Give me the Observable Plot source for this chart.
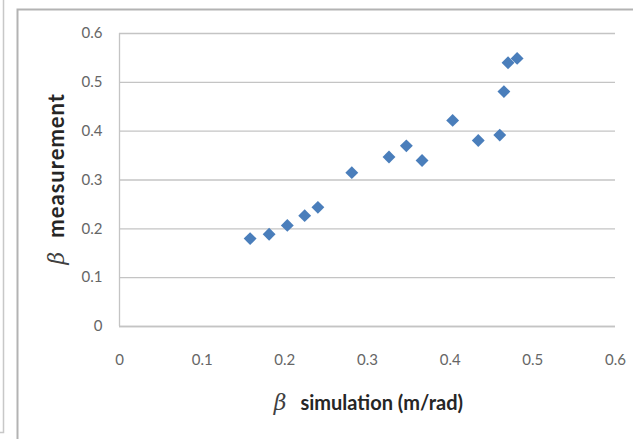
<!DOCTYPE html>
<html>
<head>
<meta charset="utf-8">
<script src="https://cdn.jsdelivr.net/npm/d3@7"></script>
<script src="https://cdn.jsdelivr.net/npm/@observablehq/plot@0.6"></script>
<style>
  html, body { margin: 0; padding: 0; background: #fff; }
  #chart { position: relative; width: 633px; height: 439px; }
</style>
</head>
<body>
<div id="chart"></div>
<script>
const betaSimulation = [0.158, 0.181, 0.203, 0.224, 0.240, 0.281, 0.326, 0.347, 0.366, 0.403, 0.434, 0.460, 0.465, 0.470, 0.481];
const betaMeasurement = [0.180, 0.189, 0.207, 0.227, 0.244, 0.315, 0.347, 0.370, 0.340, 0.422, 0.381, 0.392, 0.481, 0.540, 0.549];
const xTicks = [0, 0.1, 0.2, 0.3, 0.4, 0.5, 0.6];
const yTicks = [0, 0.1, 0.2, 0.3, 0.4, 0.5, 0.6];
const xTitle = "simulation (m/rad)";
const yTitle = "measurement";
const betaSymbol = "β";

const data = betaSimulation.map((x, i) => ({x, y: betaMeasurement[i]}));

const plot = Plot.plot({
  width: 633,
  height: 439,
  marginLeft: 119,
  marginRight: 18,
  marginTop: 33,
  marginBottom: 113,
  style: {fontFamily: "Lato, 'Open Sans', sans-serif", fontSize: "15px", color: "#666666", background: "#fff"},
  x: {domain: [0, 0.6], ticks: xTicks, tickFormat: d => String(d), label: null, tickSize: 0, tickPadding: 28},
  y: {domain: [0, 0.6], ticks: yTicks, tickFormat: d => String(d), label: null, tickSize: 0, tickPadding: 17},
  marks: [
    Plot.gridY(yTicks, {stroke: "#c4c4c4", strokeOpacity: 1, strokeWidth: 1.3}),
    Plot.ruleX([0], {stroke: "#c4c4c4", strokeWidth: 1.3}),
    Plot.ruleY([0], {stroke: "#c4c4c4", strokeWidth: 1.3}),
    Plot.dot(data, {x: "x", y: "y", symbol: "diamond2", r: 5.8, fill: "#4a7ebb", stroke: "none"})
  ]
});

document.getElementById("chart").appendChild(plot);

const svg = d3.select(plot);
// outer chart frame
const frame = svg.insert("g", ":first-child");
frame.append("path").attr("d", "M17.5,439 V9.5 H633").attr("fill", "none").attr("stroke", "#b3b3b3").attr("stroke-width", 2);
frame.append("path").attr("d", "M0,432.5 H3.5 V0").attr("fill", "none").attr("stroke", "#c8c8c8").attr("stroke-width", 1.5);

const titleFont = "Lato, 'Open Sans', sans-serif";
const betaFont = "'DejaVu Serif', 'Liberation Serif', serif";

// x title
const xt = svg.append("text").attr("x", 463).attr("y", 410).attr("text-anchor", "end")
  .attr("fill", "#262626").attr("font-family", titleFont).attr("font-weight", "bold").attr("font-size", 20);
xt.append("tspan").attr("font-family", betaFont).attr("font-style", "italic").attr("font-weight", "normal").attr("font-size", 22).attr("fill", "#404040").text(betaSymbol);
xt.append("tspan").attr("dx", 14).text(xTitle);

// y title
const yt = svg.append("text").attr("transform", "translate(64,93) rotate(-90)").attr("text-anchor", "end")
  .attr("fill", "#262626").attr("font-family", titleFont).attr("font-weight", "bold").attr("font-size", 22);
yt.append("tspan").attr("font-family", betaFont).attr("font-style", "italic").attr("font-weight", "normal").attr("font-size", 22).attr("fill", "#404040").text(betaSymbol);
yt.append("tspan").attr("dx", 14).attr("letter-spacing", 1).text(yTitle);
</script>
</body>
</html>
